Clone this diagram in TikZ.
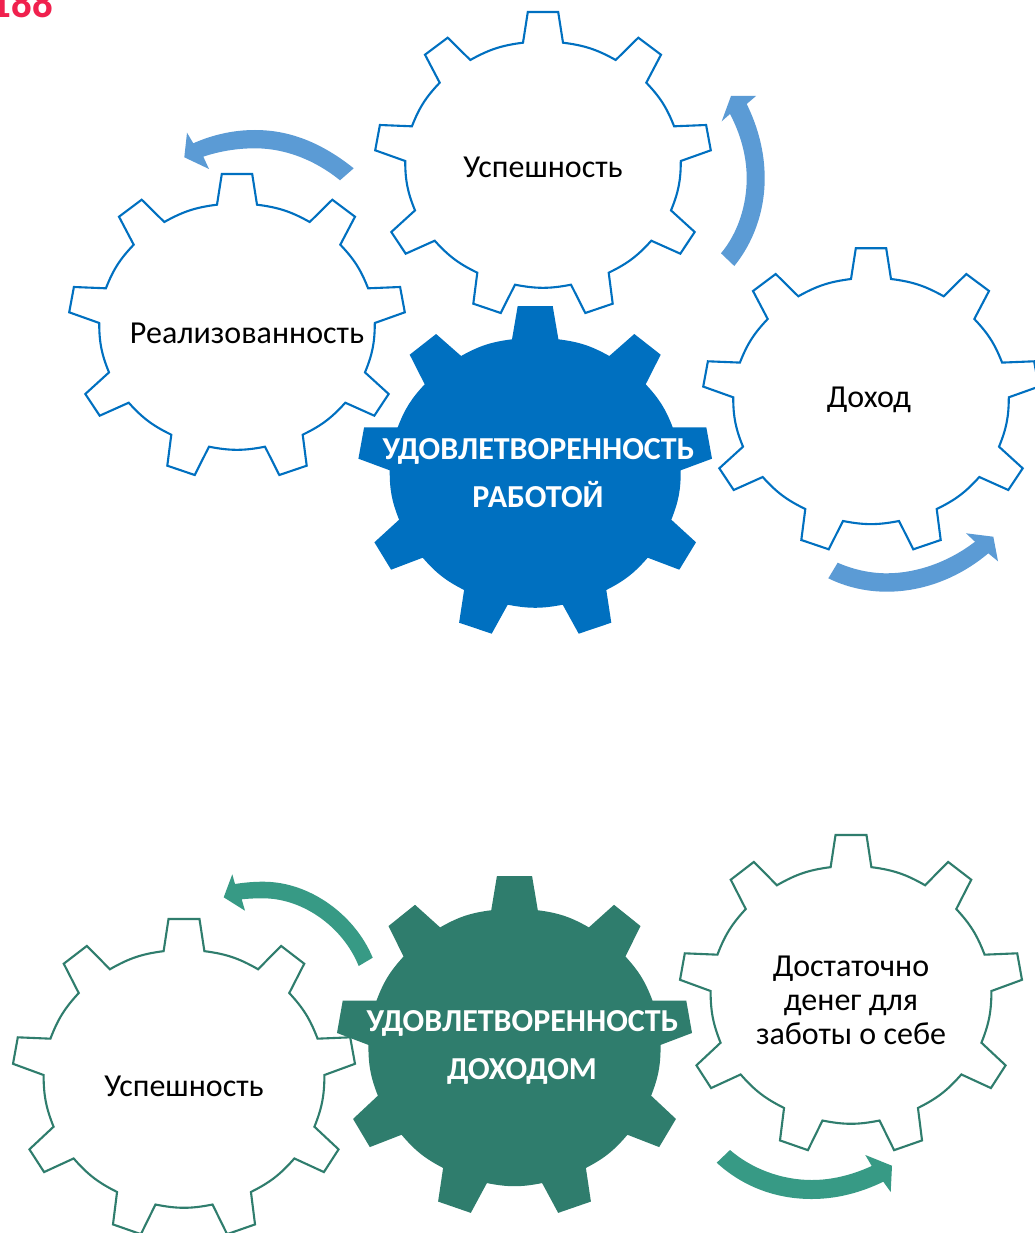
\documentclass[tikz,border=0pt]{standalone}
\usepackage{fontspec}
\setmainfont{Carlito}
\definecolor{gearblue}{HTML}{0070C0}
\definecolor{arrowblue}{HTML}{5B9BD5}
\definecolor{geargreen}{HTML}{2F7D6D}
\definecolor{arrowgreen}{HTML}{379A85}
\definecolor{pagered}{HTML}{F0214E}
\newcommand{\outlinepath}{(-15.2,0) -- (15.2,0) -- (20,30.7) to[gb] (72.7,48) -- (95.3,25.7) -- (118,42.7) -- (103.3,70.7) to[gb] (131.1,114.3) -- (163.1,113) -- (167.8,138.3) -- (137.8,149) to[gb] (128,198.4) -- (151.7,220) -- (137.3,241.7) -- (108.3,228.7) to[gb] (65.7,260.7) -- (69.7,291.7) -- (42.3,301) -- (28,272.7) to[gb] (-28,272.7) -- (-42.3,301) -- (-69.7,291.7) -- (-65.7,260.7) to[gb] (-108.3,228.7) -- (-137.3,241.7) -- (-151.7,220) -- (-128,198.4) to[gb] (-137.8,149) -- (-167.8,138.3) -- (-163.1,113) -- (-131.1,114.3) to[gb] (-103.3,70.7) -- (-118,42.7) -- (-95.3,25.7) -- (-72.7,48) to[gb] (-20,30.7) -- cycle}
\newcommand{\solidpath}{(-17.5,0) -- (17.5,0) -- (23.2,33.3) to[gb] (74.1,50) -- (99.1,28) -- (125.5,48.7) -- (110.5,78.3) to[gb] (137.5,121.3) -- (171.1,121.3) -- (176.8,152.7) -- (145.5,164.3) to[gb] (136.1,213.7) -- (160.8,236.3) -- (144.1,263.7) -- (112.5,251.7) to[gb] (71.1,284) -- (76.1,316.7) -- (43.5,327.7) -- (27.5,298.7) to[gb] (-27.5,298.7) -- (-43.5,327.7) -- (-76.1,316.7) -- (-71.1,284) to[gb] (-112.5,251.7) -- (-144.1,263.7) -- (-160.8,236.3) -- (-136.1,213.7) to[gb] (-145.5,164.3) -- (-176.8,152.7) -- (-171.1,121.3) -- (-137.5,121.3) to[gb] (-110.5,78.3) -- (-125.5,48.7) -- (-99.1,28) -- (-74.1,50) to[gb] (-23.2,33.3) -- cycle}
\tikzset{
  gb/.style={bend left=11},
  gearline/.style={draw=#1,line width=2.1pt,line join=miter,fill=white},
  gearsolid/.style={fill=#1},
  lbl/.style={anchor=base,font=\fontsize{32}{32}\selectfont,text=black,inner sep=0pt},
  mainlbl/.style={anchor=base,font=\fontsize{32}{32}\selectfont\bfseries,text=white,inner sep=0pt},
}
\begin{document}
\begin{tikzpicture}[x=1pt,y=-1pt]
\useasboundingbox (0,0) rectangle (1035,1233);
\fill[white] (0,0) rectangle (1035,1233);
% page number, cut by the page edge as in the reference
\begin{scope}[shift={(-9.5,17.5)},yscale=1.08]
\node[transform shape,anchor=base west,inner sep=0pt,text=pagered,font=\fontsize{41}{41}\selectfont\bfseries] (pagenum) at (0,0) {188};
\end{scope}
% blue group
\begin{scope}[shift={(543,12)}]\draw[gearline=gearblue] \outlinepath;\end{scope}
\begin{scope}[shift={(237,174)}]\draw[gearline=gearblue] \outlinepath;\end{scope}
\begin{scope}[shift={(871,248.3)}]\draw[gearline=gearblue] \outlinepath;\end{scope}
\begin{scope}[shift={(535.2,306)}]\fill[gearsolid=gearblue] \solidpath;\end{scope}
\node[lbl] (n1) at (543,178) {Успешность};
\node[lbl] (n2) at (247,343) {Реализованность};
\node[lbl] (n3) at (869,407) {Доход};
\node[mainlbl] (m1) at (538.5,459) {УДОВЛЕТВОРЕННОСТЬ};
\node[mainlbl] (m2) at (538,507) {РАБОТОЙ};
\fill[arrowblue] (353.7,168.3) .. controls (322,143) and (290,130) .. (255,130) .. controls (233,130) and (212,135) .. (193.3,143.3) -- (187,132.7) -- (184.3,157.3) -- (209,169) -- (203.3,156.7) .. controls (220,151) and (238,148.3) .. (255,148.3) .. controls (285,148.3) and (315,160) .. (340,180.3) -- cycle;
\fill[arrowblue] (721,253.3) .. controls (738,233) and (746.7,205) .. (746.7,178.3) .. controls (746.7,155) and (740,133) .. (730,114) -- (721.7,121.3) -- (731,96) -- (756,96) -- (746.7,104) .. controls (758,127) and (764.7,152) .. (764.7,178.3) .. controls (764.7,212) and (753,243) .. (734.3,266) -- cycle;
\fill[arrowblue] (837.7,562.7) .. controls (853,569.5) and (870,573.3) .. (886.7,573.3) .. controls (918,573.3) and (950,561) .. (975,541.7) -- (966,533.3) -- (993.3,536.7) -- (998,561.3) -- (988.3,553.3) .. controls (959,578) and (923,591.7) .. (886.7,591.7) .. controls (866,591.7) and (846,587) .. (828.3,578.3) -- cycle;
% green group
\begin{scope}[shift={(184,919)},xscale=1.019,yscale=1.047]\draw[gearline=geargreen] \outlinepath;\end{scope}
\begin{scope}[shift={(851,835)},xscale=1.019,yscale=1.047]\draw[gearline=geargreen] \outlinepath;\end{scope}
\begin{scope}[shift={(514.5,876)},xscale=1.004,yscale=1.028]\fill[gearsolid=geargreen] \solidpath;\end{scope}
\node[lbl] (n4) at (184,1096) {Успешность};
\node[lbl] (n5) at (851,976) {Достаточно};
\node[lbl] (n6) at (851,1010) {денег для};
\node[lbl] (n7) at (851,1044) {заботы о себе};
\node[mainlbl] (m3) at (522.5,1031) {УДОВЛЕТВОРЕННОСТЬ};
\node[mainlbl] (m4) at (522,1079) {ДОХОДОМ};
\fill[arrowgreen] (372.7,957.7) .. controls (355,915) and (310,881.7) .. (263.3,881.7) .. controls (254,881.7) and (244,882.5) .. (235,884) -- (232.3,874.3) -- (223.7,897.3) -- (245,910.7) -- (241.7,899.3) .. controls (249,898.5) and (256,898.3) .. (263,898.3) .. controls (303,898.3) and (343,927) .. (358.7,966) -- cycle;
\fill[arrowgreen] (730,1150) .. controls (752,1169) and (782,1180) .. (811.7,1180) .. controls (832,1180) and (852,1175) .. (871.7,1166) -- (865.3,1155) -- (892,1165.7) -- (890.7,1192) -- (883.3,1181.7) .. controls (860,1193) and (836,1199) .. (811.7,1199) .. controls (775,1199) and (742,1186) .. (716.7,1162.7) -- cycle;
\end{tikzpicture}
\end{document}
